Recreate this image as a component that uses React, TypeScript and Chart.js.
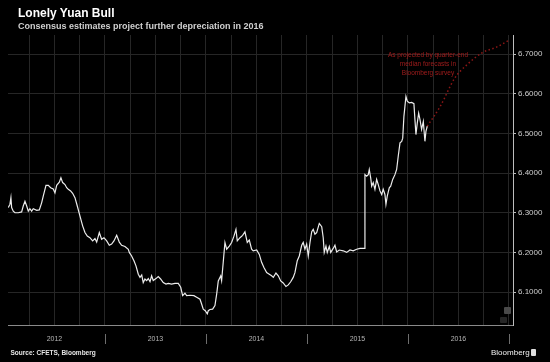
import React, { useEffect, useRef } from "react";
import { Chart, registerables } from "chart.js";

Chart.register(...registerables);

// ---- Data (decimal year, USD/CNY) ----
const HIST_X = [
  2012.043, 2012.059, 2012.069, 2012.076, 2012.092, 2012.109, 2012.142, 2012.175, 2012.191, 2012.208,
  2012.225, 2012.241, 2012.257, 2012.274, 2012.29, 2012.324, 2012.35, 2012.373, 2012.389, 2012.416,
  2012.439, 2012.462, 2012.488, 2012.505, 2012.522, 2012.548, 2012.564, 2012.581, 2012.604, 2012.621,
  2012.637, 2012.66, 2012.68, 2012.703, 2012.726, 2012.752, 2012.779, 2012.802, 2012.825, 2012.851,
  2012.878, 2012.901, 2012.918, 2012.944, 2012.967, 2012.99, 2013.017, 2013.043, 2013.066, 2013.089,
  2013.116, 2013.142, 2013.165, 2013.198, 2013.231, 2013.241, 2013.264, 2013.287, 2013.307, 2013.33,
  2013.347, 2013.364, 2013.379, 2013.396, 2013.413, 2013.429, 2013.446, 2013.462, 2013.478, 2013.505,
  2013.528, 2013.551, 2013.577, 2013.604, 2013.627, 2013.66, 2013.693, 2013.726, 2013.75, 2013.769,
  2013.792, 2013.809, 2013.842, 2013.881, 2013.908, 2013.941, 2013.957, 2013.973, 2013.993, 2014.013,
  2014.023, 2014.04, 2014.066, 2014.089, 2014.106, 2014.122, 2014.146, 2014.155, 2014.171, 2014.188,
  2014.205, 2014.231, 2014.254, 2014.277, 2014.297, 2014.31, 2014.337, 2014.363, 2014.386, 2014.409,
  2014.429, 2014.452, 2014.468, 2014.502, 2014.528, 2014.551, 2014.574, 2014.601, 2014.627, 2014.65,
  2014.667, 2014.693, 2014.716, 2014.74, 2014.765, 2014.792, 2014.815, 2014.839, 2014.864, 2014.881,
  2014.904, 2014.924, 2014.948, 2014.963, 2014.98, 2014.997, 2015.013, 2015.03, 2015.047, 2015.062,
  2015.079, 2015.096, 2015.122, 2015.146, 2015.161, 2015.171, 2015.188, 2015.201, 2015.221, 2015.235,
  2015.26, 2015.277, 2015.294, 2015.32, 2015.359, 2015.393, 2015.426, 2015.458, 2015.492, 2015.525,
  2015.569, 2015.574, 2015.591, 2015.607, 2015.617, 2015.631, 2015.641, 2015.656, 2015.673, 2015.69,
  2015.706, 2015.723, 2015.74, 2015.755, 2015.772, 2015.782, 2015.795, 2015.815, 2015.829, 2015.849,
  2015.871, 2015.888, 2015.904, 2015.921, 2015.938, 2015.948, 2015.96, 2015.97, 2015.98, 2015.993,
  2016.013, 2016.037, 2016.059, 2016.069, 2016.079, 2016.092, 2016.106, 2016.119, 2016.135, 2016.152,
  2016.168, 2016.178, 2016.191,
];
const HIST_Y = [
  6.313, 6.321, 6.338, 6.313, 6.304, 6.3, 6.3, 6.302, 6.317, 6.329,
  6.317, 6.304, 6.31, 6.304, 6.31, 6.306, 6.307, 6.325, 6.342, 6.369,
  6.369, 6.363, 6.36, 6.35, 6.369, 6.377, 6.388, 6.376, 6.371, 6.363,
  6.359, 6.355, 6.349, 6.338, 6.317, 6.292, 6.267, 6.25, 6.241, 6.237,
  6.229, 6.235, 6.226, 6.25, 6.233, 6.237, 6.229, 6.218, 6.221, 6.229,
  6.243, 6.226, 6.218, 6.215, 6.208, 6.2, 6.191, 6.179, 6.166, 6.145,
  6.137, 6.143, 6.124, 6.133, 6.129, 6.134, 6.126, 6.141, 6.129, 6.134,
  6.139, 6.133, 6.124, 6.12, 6.122, 6.12, 6.122, 6.122, 6.112, 6.091,
  6.097, 6.091, 6.092, 6.091, 6.087, 6.082, 6.07, 6.057, 6.053, 6.045,
  6.053, 6.056, 6.057, 6.066, 6.095, 6.128, 6.141, 6.129, 6.175, 6.225,
  6.208, 6.216, 6.225, 6.241, 6.258, 6.229, 6.237, 6.243, 6.252, 6.225,
  6.231, 6.208, 6.204, 6.206, 6.195, 6.175, 6.162, 6.149, 6.145, 6.141,
  6.137, 6.148, 6.141, 6.128, 6.123, 6.114, 6.118, 6.126, 6.137, 6.149,
  6.179, 6.191, 6.218, 6.225, 6.208, 6.221, 6.191, 6.225, 6.252, 6.258,
  6.246, 6.25, 6.273, 6.265, 6.237, 6.2, 6.216, 6.2, 6.215, 6.2,
  6.21, 6.218, 6.201, 6.206, 6.204, 6.2, 6.206, 6.204, 6.208, 6.21,
  6.21, 6.396, 6.392, 6.396, 6.409, 6.388, 6.367, 6.376, 6.359, 6.384,
  6.371, 6.355, 6.346, 6.359, 6.346, 6.321, 6.342, 6.363, 6.367, 6.384,
  6.396, 6.409, 6.443, 6.476, 6.48, 6.488, 6.543, 6.568, 6.593, 6.581,
  6.577, 6.578, 6.575, 6.535, 6.497, 6.526, 6.551, 6.535, 6.51, 6.53,
  6.48, 6.505, 6.518,
];
const PROJ_X = [2016.191, 2016.317, 2016.465, 2016.584, 2016.733, 2016.881, 2017.01];
const PROJ_Y = [6.518, 6.567, 6.64, 6.673, 6.703, 6.718, 6.736];

const YEARS = [2012, 2013, 2014, 2015, 2016];
const YEAR_LABELS = ["2012", "2013", "2014", "2015", "2016"];
const Y_TICKS = [6.1, 6.2, 6.3, 6.4, 6.5, 6.6, 6.7];
const ANNOTATION = ["As projected by quarter-end", "median forecasts in", "Bloomberg survey"];

const FONT = "'Liberation Sans', Arial, sans-serif";

const separatorPlugin = {
  id: "yearSeparators",
  afterDraw(chart: any) {
    const xs = chart.scales.x;
    const area = chart.chartArea;
    const ctx = chart.ctx;
    ctx.save();
    ctx.strokeStyle = "#6e6e6e";
    ctx.lineWidth = 1;
    YEARS.forEach((y) => {
      const b = y + 1;
      const px = Math.round(xs.getPixelForValue(b)) + 0.5;
      ctx.beginPath();
      ctx.moveTo(px, area.bottom + 9);
      ctx.lineTo(px, area.bottom + 19);
      ctx.stroke();
    });
    ctx.restore();
  },
};

export default function App() {
  const ref = useRef<HTMLCanvasElement | null>(null);

  useEffect(() => {
    if (!ref.current) return;
    const quarterTicks: number[] = [];
    YEARS.forEach((y) => {
      quarterTicks.push(y + 0.25, y + 0.5, y + 0.75, y + 1);
    });
    const hist = HIST_X.map((x, i) => ({ x, y: HIST_Y[i] }));
    const proj = PROJ_X.map((x, i) => ({ x, y: PROJ_Y[i] }));

    const chart = new Chart(ref.current, {
      type: "line",
      data: {
        datasets: [
          {
            data: hist,
            borderColor: "#ececec",
            borderWidth: 1.2,
            pointRadius: 0,
            tension: 0,
          },
          {
            data: proj,
            borderColor: "#8e1616",
            borderWidth: 1.5,
            borderDash: [1.5, 2.5],
            pointRadius: 0,
            cubicInterpolationMode: "monotone",
          },
        ],
      } as any,
      options: {
        animation: false,
        responsive: false,
        layout: { padding: { left: 8, top: 35, right: 0, bottom: 0 } },
        plugins: { legend: { display: false }, tooltip: { enabled: false } },
        scales: {
          x: {
            type: "linear",
            min: 2012.04,
            max: 2017.04,
            afterBuildTicks: (s: any) => {
              s.ticks = quarterTicks.map((v) => ({ value: v }));
            },
            afterFit: (s: any) => {
              s.height = 37;
            },
            grid: { color: "#262626", lineWidth: 1, drawTicks: false },
            border: { display: true, color: "#8a8a8a" },
            ticks: {
              autoSkip: false,
              maxRotation: 0,
              padding: 10,
              color: "#b5b5b5",
              font: { size: 7, family: FONT },
              callback: (v: any) => {
                const n = Number(v);
                const i = YEARS.findIndex((y) => Math.abs(y + 0.5 - n) < 1e-6);
                return i >= 0 ? YEAR_LABELS[i] : "";
              },
            },
          },
          y: {
            position: "right",
            min: 6.017,
            max: 6.748,
            afterBuildTicks: (s: any) => {
              s.ticks = Y_TICKS.map((v) => ({ value: v }));
            },
            afterFit: (s: any) => {
              s.width = 37;
            },
            grid: { color: "#262626", lineWidth: 1, drawTicks: true, tickLength: 3, tickColor: "#bdbdbd" },
            border: { display: true, color: "#bdbdbd" },
            ticks: {
              padding: 2,
              color: "#cfcfcf",
              font: { size: 8, family: FONT },
              callback: (v: any) => Number(v).toFixed(4),
            },
          },
        },
      } as any,
      plugins: [separatorPlugin],
    });
    return () => chart.destroy();
  }, []);

  const abs = (s: React.CSSProperties): React.CSSProperties => ({ position: "absolute", whiteSpace: "nowrap", fontFamily: FONT, ...s });

  return (
    <div style={{ position: "fixed", left: 0, top: 0, width: 550, height: 362, background: "#000", overflow: "hidden" }}>
      <canvas ref={ref} width={550} height={362} style={{ position: "absolute", left: 0, top: 0, width: 550, height: 362 }} />
      <div style={abs({ left: 18, top: 6.5, fontSize: 12, lineHeight: "12px", fontWeight: "bold", color: "#ffffff" })}>Lonely Yuan Bull</div>
      <div style={abs({ left: 18, top: 21.8, fontSize: 9, lineHeight: "9px", fontWeight: "bold", color: "#cfcfcf" })}>
        Consensus estimates project further depreciation in 2016
      </div>
      <div style={abs({ left: 368, top: 49.5, width: 120, textAlign: "center", fontSize: 6.5, lineHeight: "9px", color: "#a01c1c" })}>
        {ANNOTATION.map((t, i) => (
          <div key={i}>{t}</div>
        ))}
      </div>
      <div style={abs({ left: 504, top: 307, width: 7, height: 7, background: "#4a4a4a", borderRadius: 1 })} />
      <div style={abs({ left: 500, top: 317, width: 7, height: 6, background: "#262626", borderRadius: 1 })} />
      <div style={abs({ left: 10.5, top: 350, fontSize: 6.5, lineHeight: "6.5px", fontWeight: "bold", color: "#e6e6e6" })}>
        Source: CFETS, Bloomberg
      </div>
      <div style={abs({ left: 491, top: 349, fontSize: 8, lineHeight: "8px", color: "#f0f0f0" })}>Bloomberg</div>
      <div style={abs({ left: 531, top: 349, width: 5, height: 7, background: "#e0e0e0", borderRadius: 1 })} />
    </div>
  );
}
